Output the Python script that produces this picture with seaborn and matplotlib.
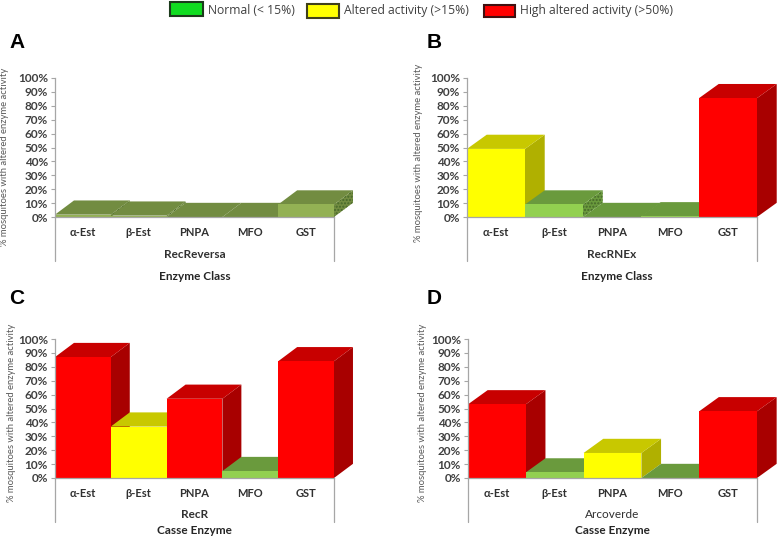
import pandas as pd
import seaborn as sns
import matplotlib.pyplot as plt
from matplotlib.patches import Polygon, Rectangle

sns.set_style('white')
plt.rcParams['font.family'] = ['Lato', 'DejaVu Sans']

# valores
enzimas = ['α-Est', 'β-Est', 'PNPA', 'MFO', 'GST']
valores_a = [1.7, 1, 0, 0, 9]
valores_b = [49, 9, 0, 0.5, 85.5]
valores_c = [87, 37, 57, 5, 84]
valores_d = [53, 4, 18, 0, 48]
niveles_a = ['n', 'n', 'n', 'n', 'n']
niveles_b = ['a', 'n', 'n', 'n', 'h']
niveles_c = ['h', 'a', 'h', 'n', 'h']
niveles_d = ['h', 'n', 'a', 'n', 'h']
leyenda = ['Normal (< 15%)', 'Altered activity (>15%)', 'High altered activity (>50%)']

# (frente, tapa, lado) de cada nivel
verde = ('#92d050', '#6a9a3d', '#6a9a3d')
oliva = ('#93b154', '#728c41', '#728c41')
amarillo = ('#ffff00', '#c8c800', '#b0b000')
rojo = ('#ff0000', '#c80000', '#a80000')

W, H = 778, 538
DX, DY = 0.34, 10.2  # profundidad del efecto 3D


def panel(letra, valores, niveles, grupo, titulo, x0, x1, y0, verde_panel, lab_x, lab_y,
          letra_x, letra_y, titulo_x=0.5, titulo_dy=59, grupo_bold='bold'):
    colores = {'n': verde_panel, 'a': amarillo, 'h': rojo}
    ax = fig.add_axes([x0 / W, 1 - y0 / H, (x1 - x0) / W, 139 / H])
    df = pd.DataFrame({'enzima': enzimas, 'valor': valores})
    sns.barplot(data=df, x='enzima', y='valor', hue='enzima', legend=False, width=1,
                palette=[colores[n][0] for n in niveles], saturation=1, ax=ax)
    ax.set_xlim(-0.5, 4.5)
    ax.set_ylim(0, 100)

    # lado y tapa de cada barra, de izquierda a derecha
    for i, (barra, n) in enumerate(zip(ax.patches, niveles)):
        x = barra.get_x()
        w = barra.get_width()
        h = barra.get_height()
        barra.set_zorder(3 * i + 4)
        barra.set_linewidth(0)
        barra.set_clip_on(False)
        lado = Polygon([(x + w, 0), (x + w + DX, DY), (x + w + DX, h + DY), (x + w, h)],
                       facecolor=colores[n][2], edgecolor='none', zorder=3 * i + 2, clip_on=False)
        if n == 'n':
            # el lado verde lleva una trama de puntos
            lado.set_hatch('.....')
            lado.set_edgecolor('#46682a')
            lado.set_linewidth(0)
        tapa = Polygon([(x, h), (x + DX, h + DY), (x + w + DX, h + DY), (x + w, h)],
                       facecolor=colores[n][1], edgecolor='none', zorder=3 * i + 3, clip_on=False)
        ax.add_patch(lado)
        ax.add_patch(tapa)

    sns.despine(ax=ax, top=True, right=True)
    for s in ['left', 'bottom']:
        ax.spines[s].set_color('#a6a6a6')
        ax.spines[s].set_linewidth(0.9)
        ax.spines[s].set_zorder(40)
    for xl in [-0.5, 4.5]:
        ax.plot([xl, xl], [0, -32], color='#a6a6a6', lw=0.9, clip_on=False, zorder=1)

    ax.set_yticks(range(0, 101, 10))
    ax.set_yticklabels([f'{t}%' for t in range(0, 101, 10)], fontsize=8.5, fontweight='bold',
                       color='#404040')
    ax.tick_params(axis='y', length=3, width=0.8, color='#a6a6a6', pad=2, left=True)
    ax.tick_params(axis='x', length=0, pad=7.5)
    ax.set_xticks(range(5))
    ax.set_xticklabels(enzimas, fontsize=8, fontweight='bold', color='#303030')
    ax.set_xlabel('')
    ax.set_ylabel('% mosquitoes with altered enzyme activity', fontsize=6.8, color='#595959')
    ax.yaxis.set_label_coords(lab_x, lab_y)

    ax.text(0.5, -37 / 139, grupo, transform=ax.transAxes, ha='center', va='center',
            fontsize=8.5, fontweight=grupo_bold, color='#303030')
    ax.text(titulo_x, -titulo_dy / 139, titulo, transform=ax.transAxes, ha='center', va='center',
            fontsize=8.5, fontweight='bold', color='#262626')
    fig.text(letra_x / W, 1 - letra_y / H, letra, fontsize=15, fontweight='bold',
             family='Liberation Sans', va='center', color='black')


fig = plt.figure(figsize=(W / 100, H / 100), dpi=100)

panel('A', valores_a, niveles_a, 'RecReversa', 'Enzyme Class', 55, 334, 217, oliva, -0.165, 0.43, 9, 43)
panel('B', valores_b, niveles_b, 'RecRNEx', 'Enzyme Class', 467, 757, 217, verde, -0.152, 0.46, 427, 43,
      titulo_x=0.517)
panel('C', valores_c, niveles_c, 'RecR', 'Casse Enzyme', 55, 334, 478, verde, -0.14, 0.47, 9, 298,
      titulo_dy=53)
panel('D', valores_d, niveles_d, 'Arcoverde', 'Casse Enzyme', 468, 757, 478, verde, -0.142, 0.47, 427, 298,
      titulo_dy=53, grupo_bold='normal')

# leyenda comun arriba
for x, y, w, h, color, borde, texto in [(170, 2, 33, 14, '#10dc20', '#1c3a1c', leyenda[0]),
                                        (307, 4, 32, 14, '#ffff00', '#40401a', leyenda[1]),
                                        (484, 5, 31, 12, '#ff0000', '#401010', leyenda[2])]:
    fig.add_artist(Rectangle((x / W, 1 - (y + h) / H), w / W, h / H, facecolor=color,
                             edgecolor=borde, linewidth=1.5, transform=fig.transFigure))
    fig.text((x + w + 5) / W, 1 - 10.5 / H, texto, fontsize=8.7, va='center', color='#404040',
             family='Open Sans')

fig.savefig('out.png', dpi=100)
